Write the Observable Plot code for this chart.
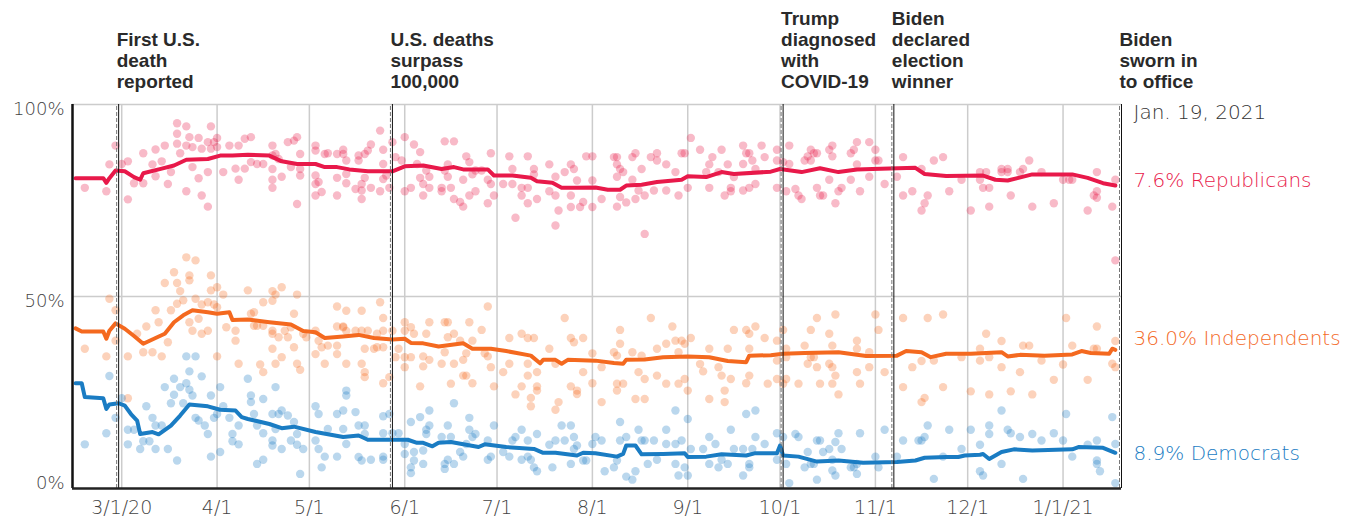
<!DOCTYPE html>
<html><head><meta charset="utf-8">
<script src="https://cdn.jsdelivr.net/npm/d3@7"></script>
<script src="https://cdn.jsdelivr.net/npm/@observablehq/plot@0.6"></script>
<style>
body{margin:0;background:#fff;}
#chart{width:1345px;height:517px;}
</style></head><body><div id="chart"></div>
<script>
// ---- data (dates as M/D; January = 2021, others = 2020) ----
const repLine = [["2/15",80.8],["2/24",80.8],["2/25",79.6],["2/26",80.8],["2/28",82.8],["3/2",82.6],["3/5",81.1],["3/7",80.4],["3/8",82.1],["3/14",83.3],["3/18",84.1],["3/22",85.6],["3/29",85.8],["4/2",86.7],["4/6",86.7],["4/11",86.9],["4/18",86.7],["4/22",85.2],["4/27",84.5],["5/3",84.5],["5/6",83.7],["5/10",83.7],["5/14",83.1],["5/20",82.6],["5/28",82.6],["6/1",83.9],["6/7",84.1],["6/13",83.2],["6/17",83.7],["6/20",83.1],["6/28",83.1],["6/30",81.5],["7/6",81.5],["7/12",80.9],["7/14",80.0],["7/19",79.6],["7/22",78.3],["7/26",78.3],["8/2",78.4],["8/6",77.8],["8/10",77.8],["8/12",78.9],["8/17",79.1],["8/22",79.8],["8/30",80.4],["9/1",81.3],["9/7",81.1],["9/12",82.4],["9/16",81.9],["9/28",82.5],["10/1",83.2],["10/8",82.4],["10/14",83.4],["10/20",82.4],["10/26",83.1],["10/31",83.2],["11/14",83.5],["11/17",81.9],["11/24",81.4],["12/6",81.5],["12/10",80.4],["12/14",80.2],["12/22",81.8],["1/4",81.8],["1/9",80.9],["1/14",79.5],["1/18",78.9]];
const indLine = [["2/15",41.7],["2/17",40.9],["2/24",40.9],["2/25",39.0],["2/26",41.1],["2/28",43.0],["3/2",41.6],["3/5",39.7],["3/8",37.7],["3/12",39.2],["3/15",40.3],["3/18",43.3],["3/21",45.1],["3/24",46.4],["3/29",45.9],["4/1",45.5],["4/5",45.9],["4/6",43.9],["4/11",44.0],["4/18",43.3],["4/25",42.7],["4/29",41.0],["5/3",40.7],["5/6",39.2],["5/12",39.6],["5/17",40.0],["5/22",39.2],["5/28",38.8],["6/1",39.0],["6/3",37.9],["6/7",37.8],["6/12",37.0],["6/20",37.8],["6/23",36.4],["6/29",36.4],["7/4",35.8],["7/12",34.6],["7/15",32.6],["7/16",33.5],["7/20",33.5],["7/22",32.5],["7/24",33.5],["8/2",33.3],["8/8",32.7],["8/11",32.5],["8/12",33.5],["8/18",33.6],["8/24",34.2],["9/1",34.4],["9/8",34.2],["9/14",33.2],["9/20",32.9],["9/21",34.6],["9/28",34.7],["10/2",35.1],["10/9",35.3],["10/20",35.5],["10/29",34.5],["11/8",34.6],["11/11",35.8],["11/16",35.5],["11/19",34.2],["11/24",35.1],["12/2",35.1],["12/12",35.5],["12/14",34.4],["12/18",34.8],["12/26",34.6],["1/4",34.9],["1/7",35.8],["1/10",35.3],["1/16",35.1],["1/17",36.4],["1/18",36.1]];
const demLine = [["2/15",27.4],["2/17",27.4],["2/18",23.8],["2/24",23.5],["2/25",20.7],["2/26",21.9],["2/29",22.2],["3/2",21.6],["3/4",19.4],["3/6",17.7],["3/7",14.2],["3/11",14.7],["3/13",14.1],["3/17",16.4],["3/20",19.0],["3/23",21.9],["3/29",21.4],["4/2",20.5],["4/7",20.3],["4/9",18.6],["4/11",18.1],["4/18",16.8],["4/22",15.7],["4/26",16.1],["5/3",14.7],["5/12",13.4],["5/17",13.8],["5/20",12.7],["6/2",12.7],["6/5",11.9],["6/7",11.9],["6/10",11.0],["6/12",11.9],["6/16",12.1],["6/25",10.8],["6/27",11.5],["7/4",10.8],["7/13",10.3],["7/16",9.3],["7/20",9.3],["7/27",8.6],["7/29",9.3],["8/2",9.2],["8/9",8.3],["8/11",9.0],["8/12",11.2],["8/15",11.2],["8/17",8.9],["8/24",9.0],["8/31",9.2],["9/1",8.2],["9/7",8.3],["9/12",8.9],["9/20",8.6],["9/23",9.2],["9/30",9.2],["10/1",11.2],["10/2",8.6],["10/7",8.3],["10/13",7.0],["10/20",7.3],["10/28",6.7],["11/8",6.9],["11/14",7.3],["11/17",8.0],["11/24",8.2],["11/28",8.2],["11/30",8.6],["12/5",8.8],["12/6",9.0],["12/8",7.7],["12/12",9.5],["12/16",10.2],["12/22",9.9],["1/4",10.2],["1/6",10.8],["1/14",10.6],["1/18",9.3]];

const repPoints = [["2/18",78.3],["2/25",77.4],["2/26",84.4],["2/28",89.3],["3/1",84.5],["3/3",85.2],["3/3",75.3],["3/5",79.5],["3/8",87.3],["3/8",79.5],["3/11",84.4],["3/12",88.3],["3/12",81.3],["3/14",85.2],["3/15",89.3],["3/16",79.3],["3/17",82.4],["3/19",95.1],["3/19",92.4],["3/19",89.8],["3/20",87.3],["3/22",94.3],["3/22",89.3],["3/22",77.4],["3/23",91.5],["3/24",83.7],["3/24",88.9],["3/26",91.3],["3/26",80.8],["3/27",88.5],["3/27",76.3],["3/29",90.2],["3/29",82.4],["3/29",73.4],["3/30",94.3],["3/30",88.5],["3/31",90.2],["4/1",91.3],["4/1",88.9],["4/3",82.4],["4/5",89.3],["4/7",83.3],["4/8",80.4],["4/8",89.3],["4/10",83.3],["4/10",91.1],
["4/12",91.5],["4/12",85.0],["4/14",84.5],["4/16",84.5],["4/19",89.3],["4/19",86.7],["4/19",83.2],["4/19",80.4],["4/19",78.3],["4/20",87.1],["4/21",85.8],["4/22",81.2],["4/24",90.2],["4/25",83.7],["4/26",90.6],["4/27",91.5],["4/28",83.2],["4/28",87.1],["4/28",81.5],["4/27",74.1],["5/3",89.3],["5/3",88.0],["5/3",81.5],["5/3",79.3],["5/3",76.3],["5/4",79.8],["5/5",77.2],["5/6",87.1],["5/7",87.3],["5/10",87.1],["5/10",80.9],["5/10",76.3],["5/12",87.1],["5/12",88.2],["5/13",85.4],["5/13",81.9],["5/13",79.5],["5/16",78.0],["5/17",86.7],["5/17",85.4],["5/18",79.3],["5/18",77.6],["5/18",75.4],["5/19",87.1],["5/19",80.9],["5/20",88.0],["5/21",89.6],["5/21",78.3],["5/24",77.4],["5/24",93.2],["5/25",88.2],["5/25",84.5],["5/25",80.6],["5/26",81.5],["5/27",78.3],["5/28",90.2],["5/29",86.3],["5/31",85.4],["6/1",91.5],["6/1",77.4],["6/3",78.3],["6/4",89.6],["6/5",84.5],["6/6",80.9],["6/6",87.6],
["6/7",79.3],["6/7",76.3],["6/8",82.8],["6/9",81.2],["6/9",78.3],["6/13",78.3],["6/13",77.4],["6/14",90.4],["6/14",82.8],["6/15",84.4],["6/15",81.2],["6/16",78.3],["6/17",90.4],["6/17",75.4],["6/19",74.6],["6/20",80.4],["6/20",73.4],["6/21",86.5],["6/22",85.0],["6/22",76.3],["6/23",81.8],["6/24",77.4],["6/24",82.8],["6/26",82.8],["6/28",80.4],["6/28",74.3],["6/29",87.3],["6/29",79.3],["6/30",76.3],["7/3",79.3],["7/5",86.5],["7/6",83.2],["7/6",79.3],["7/7",70.5],["7/9",78.3],["7/9",76.3],["7/11",86.5],["7/11",78.3],["7/11",74.3],["7/13",83.2],["7/13",81.8],["7/14",75.4],["7/18",84.4],["7/18",77.4],["7/20",81.2],["7/20",68.5],["7/20",76.3],["7/21",72.4],["7/23",82.4],["7/25",84.4],["7/25",76.3],["7/25",73.3],["7/26",83.2],["7/27",80.2],["7/28",73.3],["7/29",74.6],["7/30",86.5],["8/1",80.2],["8/1",73.3],["8/1",86.5],
["8/4",75.4],["8/8",86.3],["8/9",86.3],["8/9",84.4],["8/9",81.2],["8/10",83.2],["8/10",75.9],["8/11",82.4],["8/12",74.5],["8/9",73.4],["8/14",86.3],["8/14",80.4],["8/15",87.3],["8/15",75.4],["8/16",77.6],["8/17",83.2],["8/18",76.3],["8/20",86.3],["8/21",77.6],["8/22",87.3],["8/22",85.4],["8/25",84.4],["8/25",77.6],["8/28",82.4],["8/29",76.3],["8/30",87.3],["8/31",87.3],["9/1",78.3],["9/2",91.3],["9/5",88.2],["9/7",82.4],["9/8",78.3],["9/8",84.4],["9/9",86.3],["9/11",82.4],["9/12",88.2],["9/13",76.3],["9/14",84.4],["9/15",77.4],["9/15",78.3],["9/16",81.1],["9/19",89.3],["9/19",84.5],["9/19",77.6],["9/20",87.3],["9/21",87.3],["9/21",78.3],["9/22",85.4],["9/23",83.2],["9/23",79.3],["9/25",89.3],["9/26",86.3],["8/18",66.3],
["9/30",88.2],["9/30",85.4],["9/30",78.3],["10/2",85.0],["10/3",77.4],["10/4",89.3],["10/4",84.5],["10/6",78.0],["10/7",76.3],["10/8",75.4],["10/9",85.4],["10/10",86.5],["10/11",88.2],["10/11",85.4],["10/12",87.3],["10/13",78.3],["10/13",87.3],["10/14",76.3],["10/15",76.3],["10/17",80.4],["10/17",88.2],["10/18",89.3],["10/18",86.5],["10/19",74.3],["10/20",77.4],["10/21",78.3],["10/24",87.3],["10/24",80.4],["10/25",88.2],["10/26",90.2],["10/26",84.4],["10/27",77.4],["10/30",90.2],["10/30",81.2],["11/1",88.2],["11/1",85.4],["11/2",85.4],["11/4",79.3],["11/8",81.2],["11/10",86.3],["11/10",76.3],["11/13",77.4],["11/16",83.2],["11/16",72.4],["11/17",74.3],["11/18",76.3],["11/20",85.4],["11/23",86.3],
["11/25",77.4],["11/29",80.4],["12/2",72.4],["12/5",82.4],["12/5",80.4],["12/6",78.3],["12/7",82.4],["12/8",78.3],["12/8",73.4],["12/12",83.2],["12/12",82.4],["12/14",83.2],["12/14",82.4],["12/15",76.3],["12/18",82.4],["12/19",83.2],["12/21",85.4],["12/22",73.4],["12/25",82.4],["12/29",74.3],["1/1",80.4],["1/3",80.4],["1/4",80.4],["1/9",72.4],["1/11",76.3],["1/12",82.4],["1/12",77.4],["1/12",75.7],["1/17",73.4],["1/18",80.4],["1/18",59.4]];

const indPoints = [["2/26",49.4],["2/28",46.4],["2/28",38.5],["2/18",36.4],["2/25",34.4],["3/3",34.4],["3/3",23.5],["3/6",40.3],["3/8",35.5],["3/9",42.2],["3/11",35.5],["3/12",46.4],["3/13",43.3],["3/14",34.4],["3/15",53.5],["3/16",38.1],["3/17",46.4],["3/18",56.3],["3/19",53.5],["3/19",48.1],["3/20",51.4],["3/21",49.0],["3/22",60.2],["3/23",55.5],["3/23",54.2],["3/23",43.3],["3/24",41.1],["3/25",59.4],["3/25",49.4],["3/26",44.2],["3/27",47.9],["3/27",40.3],["3/29",48.5],["3/29",41.1],["3/30",55.5],["3/30",51.6],["3/31",47.9],["4/1",52.4],["4/1",34.4],["4/1",47.2],["4/3",50.5],["4/4",42.0],["4/7",41.1],["4/7",38.5],["4/8",32.5],["4/11",51.6],
["4/12",45.5],["4/13",45.9],["4/13",42.4],["4/14",42.4],["4/16",48.5],["4/16",42.4],["4/15",32.3],["4/16",30.3],["4/19",51.4],["4/19",48.9],["4/19",41.1],["4/19",40.3],["4/20",50.5],["4/19",36.4],["4/20",32.5],["4/21",39.4],["4/22",52.4],["4/22",34.2],["4/23",41.1],["4/24",39.4],["4/25",42.0],["4/26",45.5],["4/26",36.8],["4/27",32.5],["4/27",50.5],["4/28",30.9],["4/29",40.3],["4/30",39.4],["5/3",41.1],["5/3",35.0],["5/4",38.5],["5/5",36.8],["5/6",32.5],["5/7",37.2],["5/10",47.4],["5/10",42.2],["5/10",37.2],["5/10",35.0],["5/12",42.2],["5/12",42.0],["5/13",46.3],["5/13",41.0],["5/13",32.5],["5/16",41.1],["5/18",46.3],["5/18",41.1],["5/18",32.5],["5/19",36.4],["5/19",30.3],["5/19",29.0],["5/20",41.1],["5/22",36.4],["5/23",40.3],["5/23",36.8],["5/24",48.5],["5/25",44.4],["5/25",41.1],["5/25",36.8],["5/25",27.4],["5/27",29.0],["5/28",41.1],["5/29",34.2],["5/30",36.4],["6/1",43.3],["6/1",41.1],["6/1",34.2],["6/1",31.6],["6/3",34.2],["6/3",42.0],["6/4",40.3],["6/6",26.6],
["6/7",34.4],["6/7",31.8],["6/8",40.3],["6/9",43.3],["6/9",33.5],["6/13",32.5],["6/14",43.3],["6/14",35.5],["6/15",43.3],["6/15",39.4],["6/16",27.3],["6/17",40.3],["6/17",32.5],["6/19",38.5],["6/20",33.5],["6/20",29.4],["6/21",35.2],["6/21",29.4],["6/22",43.3],["6/23",38.5],["6/23",27.4],["6/26",41.3],["6/27",35.2],["6/28",47.4],["6/28",34.4],["6/29",31.6],["6/30",26.6],["7/3",30.3],["7/5",32.5],["7/5",39.2],["7/7",24.5],["7/9",26.6],["7/9",40.3],["7/11",39.2],["7/11",32.5],["7/11",29.4],["7/12",23.6],["7/12",21.4],["7/13",39.2],["7/14",30.3],["7/14",26.6],["7/14",25.5],["7/18",36.4],["7/20",20.5],["7/20",32.5],["7/21",22.5],["7/23",44.4],["7/25",39.2],["7/25",26.6],["7/26",38.1],["7/27",24.6],["7/27",25.5],["7/29",39.2],["7/29",30.3],["8/1",35.2],["8/1",27.4],
["8/4",31.6],["8/4",22.5],["8/8",35.5],["8/9",34.6],["8/9",27.3],["8/9",25.5],["8/10",41.3],["8/10",37.7],["8/11",27.3],["8/14",35.5],["8/15",23.3],["8/16",30.3],["8/17",34.6],["8/18",28.5],["8/18",23.3],["8/20",44.4],["8/22",36.4],["8/22",29.4],["8/25",37.7],["8/25",27.3],["8/27",42.2],["8/28",38.5],["8/29",35.5],["8/29",27.3],["8/30",38.5],["8/31",37.7],["8/31",28.5],["9/1",25.5],["9/2",39.2],["9/5",32.4],["9/6",30.5],["9/8",36.4],["9/8",23.3],["9/11",31.6],["9/12",29.4],["9/13",25.5],["9/13",22.5],["9/14",36.4],["9/15",28.5],["9/16",41.3],["9/20",41.3],["9/20",27.4],["9/21",40.3],["9/21",36.4],["9/21",29.4],["9/23",42.2],["9/26",39.2],["9/27",27.3],
["9/30",38.5],["9/30",33.3],["9/30",28.5],["10/2",41.3],["10/3",36.4],["10/3",34.2],["10/2",27.3],["10/3",28.5],["10/7",27.3],["10/9",37.2],["10/10",32.5],["10/11",41.3],["10/11",34.2],["10/12",34.2],["10/13",44.4],["10/13",31.6],["10/14",27.3],["10/17",40.3],["10/17",32.5],["10/18",37.2],["10/18",31.6],["10/18",27.3],["10/19",29.4],["10/19",45.3],["10/20",24.5],["10/26",38.5],["10/26",36.4],["10/26",30.3],["10/27",27.3],["10/30",35.5],["10/30",31.6],["11/1",45.3],["11/2",41.3],["11/4",30.3],["11/10",44.4],["11/10",26.4],["11/13",31.6],["11/16",33.2],["11/16",22.5],["11/17",23.6],["11/18",44.4],["11/20",33.3],["11/23",45.3],["11/23",26.4],
["11/29",34.2],["12/2",25.3],["12/5",36.4],["12/5",33.3],["12/7",40.3],["12/8",34.2],["12/8",24.5],["12/12",38.4],["12/12",31.6],["12/15",25.3],["12/18",30.3],["12/19",37.2],["12/21",37.2],["12/22",24.5],["12/25",33.3],["12/29",28.3],["1/1",32.3],["1/2",44.4],["1/4",37.2],["1/9",28.3],["1/11",36.4],["1/12",42.2],["1/12",36.4],["1/17",32.5],["1/18",38.4],["1/18",31.6]];

const demPoints = [["2/18",11.5],["2/25",14.4],["2/26",29.3],["2/28",18.4],["3/1",23.5],["3/3",15.3],["3/3",11.5],["3/5",15.3],["3/7",10.3],["3/8",12.3],["3/9",21.4],["3/10",12.3],["3/11",18.4],["3/12",16.4],["3/12",10.3],["3/14",16.4],["3/15",26.4],["3/16",10.3],["3/17",22.2],["3/18",28.6],["3/18",24.4],["3/19",7.3],["3/20",26.4],["3/21",22.2],["3/22",34.4],["3/22",27.4],["3/23",30.5],["3/23",25.7],["3/24",24.2],["3/25",18.4],["3/25",34.4],["3/26",17.7],["3/27",29.2],["3/28",16.4],["3/29",14.2],["3/30",8.3],["3/30",24.2],["3/31",18.4],["4/1",19.4],["4/2",9.5],["4/2",26.4],["4/3",21.4],["4/5",18.4],["4/6",14.2],["4/6",12.3],["4/8",16.4],["4/8",11.5],["4/11",28.6],
["4/12",24.2],["4/12",22.5],["4/13",19.4],["4/14",16.4],["4/16",23.3],["4/16",14.4],["4/14",6.4],["4/16",7.5],["4/19",19.4],["4/19",12.5],["4/19",11.2],["4/20",26.4],["4/20",15.5],["4/21",19.4],["4/22",20.3],["4/22",10.3],["4/24",19.0],["4/25",12.5],["4/26",17.3],["4/27",14.2],["4/27",11.4],["4/28",3.8],["4/29",10.3],["5/3",21.4],["5/3",12.5],["5/4",10.3],["5/4",19.4],["5/5",5.5],["5/6",8.3],["5/7",15.5],["5/10",19.4],["5/10",8.3],["5/12",15.5],["5/12",20.3],["5/13",25.5],["5/13",24.2],["5/13",11.6],["5/16",19.9],["5/17",16.4],["5/17",8.2],["5/18",7.3],["5/19",16.4],["5/19",14.2],["5/21",7.5],["5/25",8.3],["5/25",7.5],["5/25",18.8],["5/27",19.4],["5/25",14.4],["5/28",14.4],["5/30",14.4],["6/1",11.6],["6/1",9.0],["6/3",5.5],["6/3",4.0],["6/4",9.5],["6/4",7.3],["6/3",17.3],["6/6",18.6],
["6/7",9.9],["6/7",6.4],["6/8",15.3],["6/9",20.3],["6/9",16.4],["6/8",14.2],["6/13",13.4],["6/14",6.4],["6/14",5.1],["6/15",16.4],["6/15",7.5],["6/16",13.4],["6/17",22.2],["6/17",6.4],["6/19",9.5],["6/20",8.3],["6/21",11.6],["6/22",18.4],["6/22",15.3],["6/23",13.4],["6/24",14.2],["6/28",12.5],["6/28",7.5],["6/29",8.3],["6/30",16.4],["7/3",9.5],["7/5",8.3],["7/6",12.5],["7/7",13.4],["7/9",7.5],["7/9",15.3],["7/11",12.5],["7/11",8.3],["7/12",7.5],["7/13",5.5],["7/14",4.5],["7/14",14.2],["7/18",11.4],["7/19",5.5],["7/20",12.5],["7/22",16.4],["7/23",12.5],["7/25",16.4],["7/25",6.4],["7/26",13.4],["7/26",10.3],["7/27",11.2],["7/29",7.3],["7/30",7.3],["8/1",11.6],
["8/2",13.4],["8/4",12.5],["8/5",4.5],["8/8",5.5],["8/9",7.3],["8/10",17.3],["8/10",12.5],["8/12",13.4],["8/12",3.1],["8/14",2.3],["8/15",4.5],["8/16",15.3],["8/17",12.5],["8/18",12.5],["8/19",6.4],["8/21",12.5],["8/22",7.5],["8/25",15.3],["8/25",11.6],["8/28",11.6],["8/28",20.3],["8/28",6.4],["8/29",3.4],["8/30",12.5],["8/31",5.5],["9/1",3.4],["9/1",18.1],["9/2",10.3],["9/6",10.3],["9/8",13.4],["9/8",6.4],["9/10",11.6],["9/11",5.5],["9/12",7.5],["9/14",6.4],["9/15",15.3],["9/16",10.3],["9/19",10.3],["9/20",19.4],["9/21",6.4],["9/22",10.3],["9/23",20.3],["9/23",13.4],["9/19",3.4],["9/21",5.5],["9/26",11.6],
["9/30",14.4],["9/30",7.5],["10/2",13.4],["10/3",6.4],["10/4",1.4],["10/6",14.2],["10/7",13.4],["10/9",5.5],["10/10",9.5],["10/11",6.4],["10/12",6.4],["10/13",12.5],["10/13",2.3],["10/14",12.5],["10/15",9.5],["10/17",10.3],["10/18",7.5],["10/18",4.7],["10/19",12.1],["10/19",3.4],["10/20",14.4],["10/21",10.3],["10/24",5.5],["10/25",5.5],["10/26",6.4],["10/26",3.8],["10/27",14.4],["11/1",8.3],["11/2",5.5],["11/4",15.3],["11/8",8.3],["11/10",12.5],["11/15",12.5],["11/16",12.5],["11/17",13.4],["11/18",16.4],["11/20",2.5],["11/23",8.3],
["11/25",15.3],["11/29",10.3],["12/2",15.3],["12/5",11.4],["12/5",4.5],["12/6",3.4],["12/8",16.4],["12/8",14.2],["12/12",20.3],["12/12",6.4],["12/14",15.3],["12/15",14.4],["12/18",13.4],["12/19",2.5],["12/22",14.2],["12/25",12.5],["12/29",14.4],["1/1",12.5],["1/2",19.4],["1/4",8.3],["1/9",11.4],["1/12",12.5],["1/12",7.3],["1/12",6.4],["1/13",4.5],["1/17",18.6],["1/18",11.6],["1/18",1.4]];

const parties = ["Republicans","Independents","Democrats"];
const partyColors = ["#e8194a","#f4691f","#1a7cc3"];
const endLabels = ["7.6% Republicans","36.0% Independents","8.9% Democrats"];
const endLabelValues = [80.2, 39.1, 9.1];

const eventDates = ["2/29","5/28","10/2","11/7","1/20"];
const eventLabels = ["First U.S.\ndeath\nreported","U.S. deaths\nsurpass\n100,000","Trump\ndiagnosed\nwith\nCOVID-19","Biden\ndeclared\nelection\nwinner","Biden\nsworn in\nto office"];

const xTickDates = ["3/1","4/1","5/1","6/1","7/1","8/1","9/1","10/1","11/1","12/1","1/1"];
const xTickLabels = ["3/1/20","4/1","5/1","6/1","7/1","8/1","9/1","10/1","11/1","12/1","1/1/21"];
const yTicks = [0, 50, 100];
const xDomain = ["2/14","1/20"];
const lastDateLabel = "Jan. 19, 2021";

// ---- build ----
const parseMD = s => { const [m, d] = s.split("/").map(Number); return new Date(Date.UTC(m === 1 ? 2021 : 2020, m - 1, d)); };
const toRows = (arr, party) => arr.map(([d, v]) => ({date: parseMD(d), value: v, party}));
const lines = [...toRows(repLine, parties[0]), ...toRows(indLine, parties[1]), ...toRows(demLine, parties[2])];
const points = [...toRows(repPoints, parties[0]), ...toRows(indPoints, parties[1]), ...toRows(demPoints, parties[2])];
const events = eventDates.map((d, i) => ({date: parseMD(d), label: eventLabels[i]}));
const tickDates = xTickDates.map(parseMD);
const tickMap = new Map(tickDates.map((d, i) => [+d, xTickLabels[i]]));
const dom = xDomain.map(parseMD);
const ends = parties.map((p, i) => ({party: p, label: endLabels[i], value: endLabelValues[i]}));

const lightFont = "'DejaVu Sans', sans-serif";
const boldFont = "'Liberation Sans', Arial, sans-serif";

const chart = Plot.plot({
  width: 1345, height: 517,
  marginLeft: 72, marginRight: 224, marginTop: 104, marginBottom: 29,
  style: {fontFamily: lightFont, background: "#fff", overflow: "visible"},
  x: {type: "utc", domain: dom},
  y: {domain: [0, 100], axis: null},
  color: {domain: parties, range: partyColors},
  marks: [
    Plot.ruleY([50, 100], {x1: dom[0], x2: dom[1], stroke: "#cccccc", strokeWidth: 1.5}),
    Plot.ruleX(tickDates, {y1: 0, y2: 100, stroke: "#cccccc", strokeWidth: 1.5}),
    Plot.dot(points, {x: "date", y: "value", fill: "party", r: 4.2, fillOpacity: 0.3, stroke: null}),
    Plot.line(lines, {x: "date", y: "value", z: "party", stroke: "party", strokeWidth: 4, strokeLinejoin: "round", strokeLinecap: "round"}),
    Plot.ruleX(events, {x: "date", y1: 0, y2: 100, stroke: "#777", strokeWidth: 1, strokeDasharray: "4,2", dx: -2}),
    Plot.ruleX(events, {x: "date", y1: 0, y2: 100, stroke: "#111", strokeWidth: 1}),
    Plot.ruleX([dom[0]], {y1: 0, y2: 100, stroke: "#111", strokeWidth: 2.5}),
    Plot.ruleY([0], {x1: dom[0], x2: dom[1], stroke: "#222", strokeWidth: 2.5}),
    Plot.axisX({ticks: tickDates, tickFormat: d => tickMap.get(+d), tickSize: 0, tickPadding: 12, fontSize: 19, fontWeight: 200, fill: "#444", label: null}),
    Plot.text(yTicks.filter(d => d > 0), {x: dom[0], y: d => d, text: d => d + "%", textAnchor: "end", lineAnchor: "top", dx: -8, dy: -2, fontSize: 18, fontWeight: 200, fill: "#444"}),
    Plot.text(yTicks.filter(d => d === 0), {x: dom[0], y: d => d, text: d => d + "%", textAnchor: "end", lineAnchor: "bottom", dx: -8, fontSize: 18, fontWeight: 200, fill: "#444"}),
    Plot.text(events, {x: "date", y: 100, text: "label", textAnchor: "start", lineAnchor: "bottom", dx: -2, dy: -17, fontSize: 19, fontWeight: 700, lineHeight: 1.105, fill: "#2a2a2a", fontFamily: boldFont}),
    Plot.text([lastDateLabel], {x: dom[1], y: 100, text: d => d, textAnchor: "start", lineAnchor: "top", dx: 12, fontSize: 20, fontWeight: 200, fill: "#333"}),
    Plot.text(ends, {x: dom[1], y: "value", text: "label", fill: "party", textAnchor: "start", lineAnchor: "middle", dx: 12, fontSize: 20, fontWeight: 200})
  ]
});
document.getElementById("chart").appendChild(chart);
</script>
</body></html>
